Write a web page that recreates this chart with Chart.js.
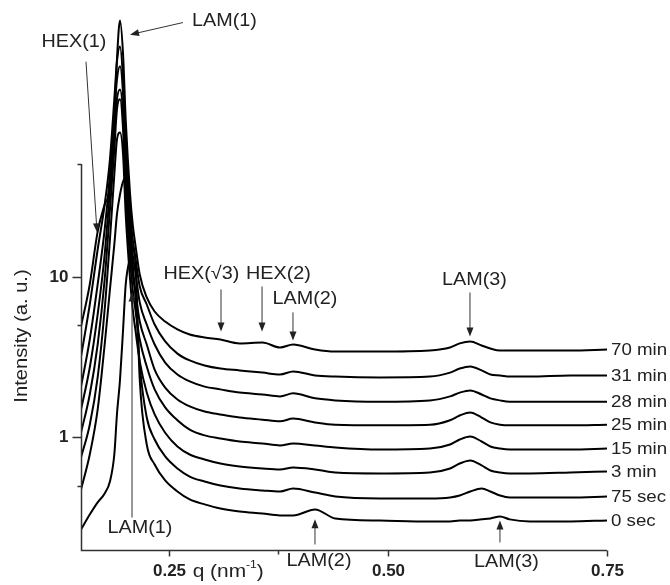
<!DOCTYPE html>
<html>
<head>
<meta charset="utf-8">
<script src="https://cdn.jsdelivr.net/npm/chart.js@4.4.1/dist/chart.umd.min.js"></script>
<style>
    body { margin: 0; background: #fff; }
    #wrap { width: 670px; height: 585px; }
</style>
</head>
<body>
<div id="wrap"><canvas id="chart1" width="670" height="585"></canvas></div>
<script>
// q (nm^-1), shared by every curve
var qValues = [0.150, 0.160, 0.169, 0.177, 0.183, 0.188, 0.191, 0.1945, 0.198, 0.201,
    0.206, 0.209, 0.212, 0.217, 0.225, 0.234, 0.246, 0.260, 0.274, 0.291,
    0.309, 0.331, 0.357, 0.377, 0.392, 0.417, 0.440, 0.491, 0.548, 0.571,
    0.582, 0.594, 0.607, 0.617, 0.628, 0.639, 0.662, 0.708, 0.750];

// intensity (a. u.), one list per annealing time
var min70 = [4.89, 8.92, 19.0, 28.0, 35.7, 94.4, 223, 389, 239, 94.4,
    32.3, 21.0, 15.8, 10.3, 7.41, 6.06, 5.25, 4.69, 4.36, 4.18,
    4.06, 3.84, 3.89, 3.62, 3.78, 3.52, 3.42, 3.42, 3.47, 3.62,
    3.84, 3.95, 3.73, 3.57, 3.47, 3.47, 3.47, 3.47, 3.52];
var min31 = [3.18, 6.70, 14.7, 28.0, 53.3, 126, 216, 268, 167, 70.9,
    26.1, 17.0, 13.1, 8.67, 6.70, 5.03, 3.95, 3.32, 3.01, 2.80,
    2.68, 2.61, 2.53, 2.46, 2.57, 2.43, 2.39, 2.36, 2.39, 2.53,
    2.68, 2.76, 2.61, 2.46, 2.43, 2.39, 2.39, 2.43, 2.43];
var min28 = [2.07, 4.06, 8.92, 19.6, 43.0, 101, 167, 202, 135, 53.3,
    21.0, 13.7, 10.7, 6.89, 5.03, 3.78, 2.92, 2.46, 2.23, 2.07,
    1.99, 1.90, 1.85, 1.80, 1.88, 1.75, 1.70, 1.67, 1.70, 1.80,
    1.90, 1.96, 1.85, 1.75, 1.70, 1.67, 1.67, 1.67, 1.67];
var min25 = [1.49, 2.72, 5.81, 13.7, 34.7, 76.2, 126, 145, 101, 40.0,
    15.8, 10.3, 8.07, 5.25, 3.78, 2.64, 2.04, 1.72, 1.56, 1.45,
    1.39, 1.33, 1.29, 1.26, 1.31, 1.24, 1.20, 1.19, 1.20, 1.28,
    1.37, 1.43, 1.33, 1.24, 1.20, 1.19, 1.19, 1.19, 1.20];
var min15 = [1.07, 1.85, 3.78, 9.58, 26.1, 61.5, 109, 126, 81.9, 32.3,
    12.8, 8.30, 6.24, 4.06, 2.76, 1.99, 1.54, 1.28, 1.12, 1.03,
    0.986, 0.944, 0.918, 0.892, 0.918, 0.892, 0.867, 0.842, 0.854, 0.905,
    0.972, 1.014, 0.944, 0.879, 0.854, 0.842, 0.842, 0.842, 0.854];
var min3 = [0.751, 1.20, 2.36, 6.24, 17.0, 43.0, 70.9, 78.4, 57.2, 24.3,
    9.58, 6.24, 4.69, 2.97, 1.90, 1.39, 1.07, 0.879, 0.784, 0.730,
    0.689, 0.661, 0.642, 0.633, 0.651, 0.633, 0.606, 0.598, 0.606, 0.642,
    0.689, 0.720, 0.670, 0.624, 0.606, 0.598, 0.598, 0.606, 0.615];
var sec75 = [0.475, 0.784, 1.49, 3.78, 8.30, 15.8, 24.3, 32.3, 38.9, 41.2,
    20.4, 11.9, 7.73, 2.84, 1.33, 0.972, 0.762, 0.642, 0.572, 0.533,
    0.503, 0.482, 0.469, 0.462, 0.482, 0.455, 0.430, 0.418, 0.418, 0.424,
    0.436, 0.462, 0.482, 0.462, 0.436, 0.424, 0.424, 0.424, 0.430];
var sec0 = [0.268, 0.332, 0.395, 0.449, 0.533, 0.784, 1.39, 2.29, 4.69, 8.92,
    13.1, 14.7, 12.4, 2.29, 0.905, 0.680, 0.541, 0.462, 0.412, 0.384,
    0.362, 0.347, 0.337, 0.328, 0.328, 0.357, 0.314, 0.305, 0.301, 0.301,
    0.305, 0.305, 0.310, 0.314, 0.323, 0.310, 0.301, 0.301, 0.305];

var seriesNames = ['70 min', '31 min', '28 min', '25 min', '15 min', '3 min', '75 sec', '0 sec'];
var seriesValues = [min70, min31, min28, min25, min15, min3, sec75, sec0];

var xTickValues = [0.25, 0.375, 0.50, 0.75];
var xTickLabels = ['0.25', '', '0.50', '0.75'];
var yTickValues = [0.5, 1, 5, 10, 50];
var yTickLabels = ['', '1', '', '10', ''];

// peak labels: text centre and arrow tail/head, in (q, intensity)
var notes = [
    { text: 'LAM(1)', at: [0.3137, 389], from: [0.2663, 378], to: [0.2059, 318] },
    { text: 'HEX(1)', at: [0.142, 286], from: [0.1557, 216], to: [0.1683, 18.8] },
    { text: 'HEX(\u221A3)', at: [0.2874, 10.3], from: [0.3097, 8.31], to: [0.3097, 4.55] },
    { text: 'HEX(2)', at: [0.3753, 10.3], from: [0.3565, 8.67], to: [0.3565, 4.55] },
    { text: 'LAM(2)', at: [0.4055, 7.20], from: [0.3918, 5.98], to: [0.3918, 4.00] },
    { text: 'LAM(3)', at: [0.5988, 9.45], from: [0.5937, 7.95], to: [0.5937, 4.24] },
    { text: 'LAM(1)', at: [0.2173, 0.275], from: [0.2082, 0.318], to: [0.2082, 7.95] },
    { text: 'LAM(2)', at: [0.4215, 0.170], from: [0.4169, 0.2165], to: [0.4169, 0.310] },
    { text: 'LAM(3)', at: [0.6353, 0.168], from: [0.6279, 0.2228], to: [0.6279, 0.305] }
];

var FONT = '"Liberation Sans", Arial, sans-serif';
var INK = '#222';

function stretchText(ctx, s, x, y, size, align, sx, bold) {
    ctx.save();
    ctx.translate(x, y);
    ctx.scale(sx, 1);
    ctx.font = (bold ? 'bold ' : '') + size + 'px ' + FONT;
    ctx.textAlign = align;
    ctx.textBaseline = 'middle';
    ctx.fillStyle = INK;
    ctx.fillText(s, 0, 0);
    ctx.restore();
}

function arrow(ctx, x1, y1, x2, y2) {
    var a = Math.atan2(y2 - y1, x2 - x1);
    var len = 9, half = 3.5;
    ctx.save();
    ctx.strokeStyle = '#333';
    ctx.fillStyle = '#222';
    ctx.lineWidth = 1;
    ctx.beginPath();
    ctx.moveTo(x1, y1);
    ctx.lineTo(x2 - Math.cos(a) * len * 0.8, y2 - Math.sin(a) * len * 0.8);
    ctx.stroke();
    ctx.beginPath();
    ctx.moveTo(x2, y2);
    ctx.lineTo(x2 - Math.cos(a) * len - Math.sin(a) * half, y2 - Math.sin(a) * len + Math.cos(a) * half);
    ctx.lineTo(x2 - Math.cos(a) * len + Math.sin(a) * half, y2 - Math.sin(a) * len - Math.cos(a) * half);
    ctx.closePath();
    ctx.fill();
    ctx.restore();
}

// axes, ticks, titles, peak labels and curve names
var decorations = {
    id: 'decorations',
    afterDraw: function (chart) {
        var ctx = chart.ctx;
        var xs = chart.scales.x, ys = chart.scales.y;
        var area = chart.chartArea;
        var left = area.left + 0.5, bottom = area.bottom + 0.5;
        var xEnd = xs.getPixelForValue(0.75);

        ctx.save();
        ctx.strokeStyle = '#333';
        ctx.lineWidth = 1.5;
        ctx.beginPath();
        ctx.moveTo(left, ys.getPixelForValue(50));
        ctx.lineTo(left, bottom);
        ctx.lineTo(xEnd, bottom);
        ctx.stroke();

        // y ticks point left
        yTickValues.forEach(function (v, i) {
            var py = Math.round(ys.getPixelForValue(v)) + 0.5;
            var tl = yTickLabels[i] ? 9 : 4;
            ctx.beginPath();
            ctx.moveTo(left - tl, py);
            ctx.lineTo(left, py);
            ctx.stroke();
            if (yTickLabels[i]) stretchText(ctx, yTickLabels[i], left - 13, py, 17, 'right', 1, true);
        });
        // x ticks point down
        xTickValues.forEach(function (v, i) {
            var px = Math.round(xs.getPixelForValue(v)) + 0.5;
            var tl = xTickLabels[i] ? 6 : 4;
            ctx.beginPath();
            ctx.moveTo(px, bottom);
            ctx.lineTo(px, bottom + tl);
            ctx.stroke();
            if (xTickLabels[i]) stretchText(ctx, xTickLabels[i], px, bottom + 21, 17, 'center', 1, true);
        });
        ctx.restore();

        // x title: q (nm^-1)
        var tx = xs.getPixelForValue(0.25) + 24, ty = bottom + 21;
        ctx.save();
        ctx.translate(tx, ty);
        ctx.scale(1.1, 1);
        ctx.fillStyle = INK;
        ctx.textBaseline = 'middle';
        ctx.font = '19px ' + FONT;
        ctx.fillText('q (nm', 0, 0);
        var w = ctx.measureText('q (nm').width;
        ctx.font = '11px ' + FONT;
        ctx.fillText('-1', w, -7);
        w += ctx.measureText('-1').width;
        ctx.font = '19px ' + FONT;
        ctx.fillText(')', w, 0);
        ctx.restore();

        // y title
        ctx.save();
        ctx.translate(22, 336);
        ctx.rotate(-Math.PI / 2);
        stretchText(ctx, 'Intensity (a. u.)', 0, 0, 18, 'center', 1.12, false);
        ctx.restore();

        notes.forEach(function (n) {
            stretchText(ctx, n.text, xs.getPixelForValue(n.at[0]), ys.getPixelForValue(n.at[1]), 18, 'center', 1.1, false);
            arrow(ctx, xs.getPixelForValue(n.from[0]), ys.getPixelForValue(n.from[1]),
                xs.getPixelForValue(n.to[0]), ys.getPixelForValue(n.to[1]));
        });

        seriesNames.forEach(function (name, i) {
            var vals = seriesValues[i];
            var py = ys.getPixelForValue(vals[vals.length - 1]) + 1;
            stretchText(ctx, name, xEnd + 4, py, 17, 'left', 1.1, false);
        });
    }
};

var datasets = seriesNames.map(function (name, i) {
    return {
        label: name,
        data: qValues.map(function (q, j) { return { x: q, y: seriesValues[i][j] }; }),
        borderColor: '#000',
        borderWidth: 2,
        pointRadius: 0,
        fill: false,
        cubicInterpolationMode: 'monotone'
    };
});

var myChart = new Chart(document.getElementById('chart1'), {
    type: 'line',
    data: { datasets: datasets },
    options: {
        responsive: false,
        animation: false,
        devicePixelRatio: 1,
        layout: { padding: { top: 3, right: 63, left: 0, bottom: 0 } },
        plugins: { legend: { display: false }, tooltip: { enabled: false } },
        scales: {
            x: {
                type: 'linear',
                min: 0.15,
                max: 0.75,
                ticks: { display: false },
                grid: { display: false, drawTicks: false },
                border: { display: false },
                afterFit: function (s) { s.height = 35; }
            },
            y: {
                type: 'logarithmic',
                min: 0.2,
                max: 500,
                ticks: { display: false },
                grid: { display: false, drawTicks: false },
                border: { display: false },
                afterFit: function (s) { s.width = 81; }
            }
        }
    },
    plugins: [decorations]
});
</script>
</body>
</html>
